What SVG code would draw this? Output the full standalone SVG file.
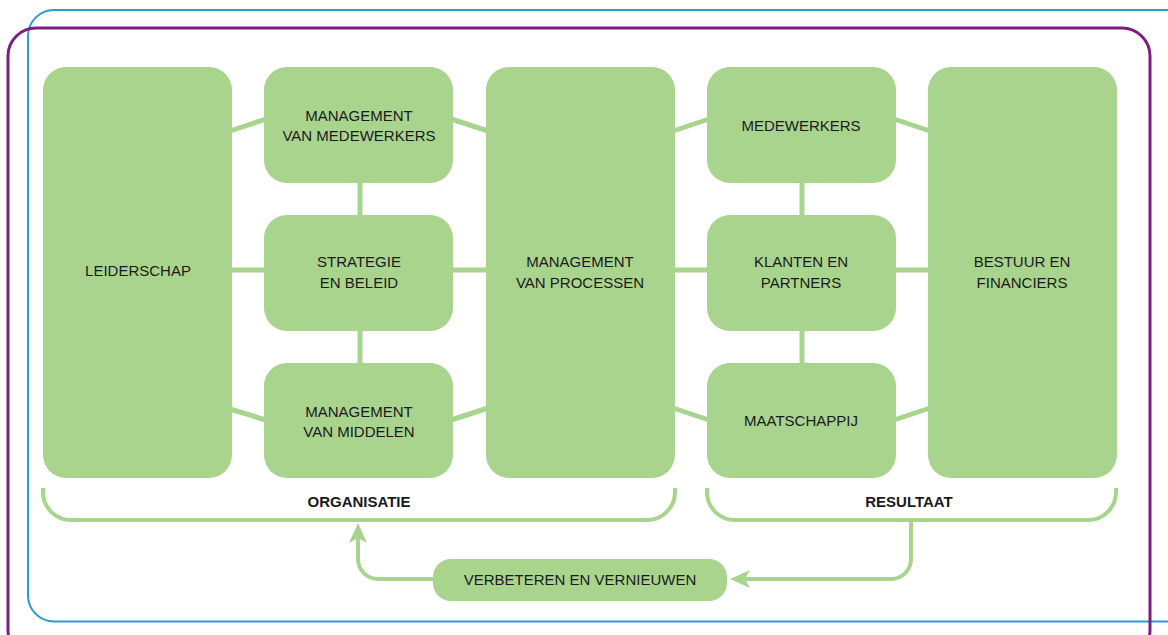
<svg xmlns="http://www.w3.org/2000/svg" width="1168" height="635" viewBox="0 0 1168 635">
<style>
.box{fill:#a9d48e}
.lbl{font-family:"Liberation Sans",Arial,sans-serif;font-size:15px;fill:#1a1a1a;text-anchor:middle}
.bold{font-weight:bold}
.con{stroke:#a9d48e;stroke-width:5;fill:none}
.br{stroke:#a9d48e;stroke-width:4;fill:none}
</style>
<defs>
<marker id="ah" viewBox="0 0 20 18" refX="10" refY="9" markerWidth="20" markerHeight="18" markerUnits="userSpaceOnUse" orient="auto">
<path d="M0,0 L20,9 L0,18 L5,9 Z" fill="#a9d48e"/>
</marker>
</defs>
<rect width="1168" height="635" fill="#ffffff"/>
<rect x="28" y="10" width="1165" height="611.5" rx="26" fill="none" stroke="#2b9ad6" stroke-width="2"/>
<rect x="8" y="28" width="1142" height="630" rx="28" fill="none" stroke="#7b1f80" stroke-width="3"/>
<g id="connectors">
<line class="con" x1="230" y1="131" x2="266" y2="119"/>
<line class="con" x1="451" y1="119" x2="488" y2="131"/>
<line class="con" x1="673" y1="131" x2="709" y2="119"/>
<line class="con" x1="894" y1="119" x2="930" y2="131"/>
<line class="con" x1="230" y1="409" x2="266" y2="420"/>
<line class="con" x1="451" y1="420" x2="488" y2="408"/>
<line class="con" x1="673" y1="408" x2="709" y2="420"/>
<line class="con" x1="894" y1="420" x2="930" y2="408"/>
<line class="con" x1="230" y1="270" x2="266" y2="270"/>
<line class="con" x1="451" y1="270" x2="488" y2="270"/>
<line class="con" x1="673" y1="270" x2="709" y2="270"/>
<line class="con" x1="894" y1="270" x2="930" y2="270"/>
<line class="con" x1="360" y1="181" x2="360" y2="217"/>
<line class="con" x1="360" y1="329" x2="360" y2="365"/>
<line class="con" x1="802" y1="181" x2="802" y2="217"/>
<line class="con" x1="802" y1="329" x2="802" y2="365"/>
<path class="br" d="M43,488 V492 A28,28 0 0 0 71,520 H647 A28,28 0 0 0 675,492 V488"/>
<path class="br" d="M707,488 V492 A28,28 0 0 0 735,520 H1088 A28,28 0 0 0 1116,492 V488"/>
<path class="br" d="M433,579 H378 A20,20 0 0 1 358,559 V533" marker-end="url(#ah)"/>
<path class="br" d="M911,520 V559 A20,20 0 0 1 891,579 H740" marker-end="url(#ah)"/>
</g>
<g id="leiderschap"><rect class="box" x="43" y="67" width="189" height="411" rx="23"/><text class="lbl" x="138" y="276">LEIDERSCHAP</text></g>
<g id="mgmt-medewerkers"><rect class="box" x="264" y="67" width="189" height="116" rx="23"/><text class="lbl" x="359" y="121">MANAGEMENT</text><text class="lbl" x="359" y="141">VAN MEDEWERKERS</text></g>
<g id="strategie"><rect class="box" x="264" y="215" width="189" height="116" rx="23"/><text class="lbl" x="359" y="267">STRATEGIE</text><text class="lbl" x="359" y="288">EN BELEID</text></g>
<g id="mgmt-middelen"><rect class="box" x="264" y="363" width="189" height="115" rx="23"/><text class="lbl" x="359" y="417">MANAGEMENT</text><text class="lbl" x="359" y="437">VAN MIDDELEN</text></g>
<g id="mgmt-processen"><rect class="box" x="486" y="67" width="189" height="411" rx="23"/><text class="lbl" x="580" y="267">MANAGEMENT</text><text class="lbl" x="580" y="288">VAN PROCESSEN</text></g>
<g id="medewerkers"><rect class="box" x="707" y="67" width="189" height="116" rx="23"/><text class="lbl" x="801" y="131">MEDEWERKERS</text></g>
<g id="klanten"><rect class="box" x="707" y="215" width="189" height="116" rx="23"/><text class="lbl" x="801" y="267">KLANTEN EN</text><text class="lbl" x="801" y="288">PARTNERS</text></g>
<g id="maatschappij"><rect class="box" x="707" y="363" width="189" height="115" rx="23"/><text class="lbl" x="801" y="426">MAATSCHAPPIJ</text></g>
<g id="bestuur"><rect class="box" x="928" y="67" width="189" height="411" rx="23"/><text class="lbl" x="1022" y="267">BESTUUR EN</text><text class="lbl" x="1022" y="288">FINANCIERS</text></g>
<g id="organisatie"><text class="lbl bold" x="359" y="507">ORGANISATIE</text></g>
<g id="resultaat"><text class="lbl bold" x="909" y="507">RESULTAAT</text></g>
<g id="verbeteren"><rect class="box" x="433" y="559" width="294" height="42" rx="18"/><text class="lbl" x="580" y="585">VERBETEREN EN VERNIEUWEN</text></g>
</svg>
